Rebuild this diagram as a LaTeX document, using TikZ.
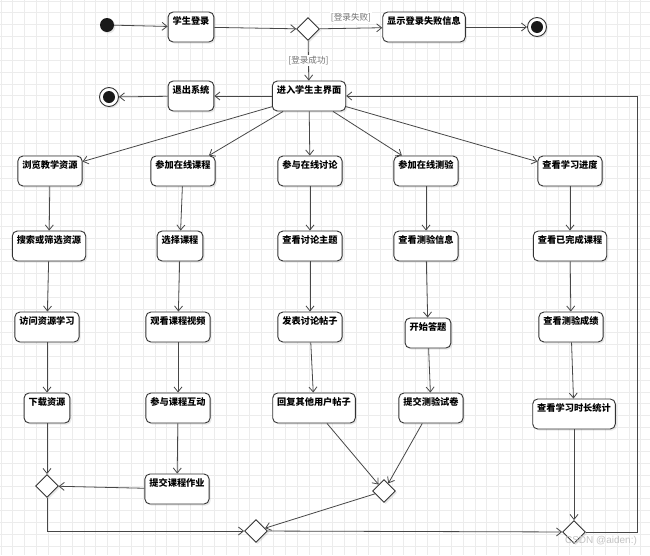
\documentclass[tikz,border=0pt]{standalone}
\usepackage{fontspec}
\newfontfamily\cjk{Noto Sans CJK SC}
\newfontfamily\wmfont{Liberation Sans}
\usetikzlibrary{arrows.meta,shapes.geometric,shadows}
\definecolor{bg}{HTML}{FFFFFF}
\definecolor{gridc}{HTML}{ECECEC}
\definecolor{edge}{HTML}{474747}
\definecolor{boxline}{HTML}{333333}
\definecolor{guard}{HTML}{707070}
\definecolor{wmark}{HTML}{C4C4C4}
\tikzset{
  gridln/.style={draw=gridc, line width=0.5pt},
  act/.style={draw=boxline, line width=0.9pt, rounded corners=5pt, fill=bg,
    font=\cjk\bfseries\fontsize{9.2pt}{11pt}\selectfont, inner xsep=4.5pt, inner ysep=3pt,
    text height=9.5pt, text depth=14.5pt,
    drop shadow={shadow xshift=1.6pt, shadow yshift=-1.6pt, opacity=0.18}},
  choice/.style={diamond, draw=boxline, line width=0.9pt, fill=bg, inner sep=0pt,
    minimum width=23pt, minimum height=23pt,
    drop shadow={shadow xshift=1.6pt, shadow yshift=-1.6pt, opacity=0.18}},
  initdot/.style={circle, fill=black!90, inner sep=0pt, minimum size=14pt,
    drop shadow={shadow xshift=1.4pt, shadow yshift=-1.4pt, opacity=0.18}},
  finring/.style={circle, draw=boxline, line width=0.9pt, fill=bg, inner sep=0pt, minimum size=19pt,
    drop shadow={shadow xshift=1.4pt, shadow yshift=-1.4pt, opacity=0.18}},
  finpt/.style={circle, fill=black!90, inner sep=0pt, minimum size=12pt},
  flow/.style={draw=edge, line width=0.8pt, -{Straight Barb[length=5pt,width=8pt]}},
  guardlab/.style={text=guard, font=\cjk\fontsize{8.6pt}{10pt}\selectfont, fill=bg, inner sep=1pt},
  wmk/.style={text=wmark, font=\wmfont\fontsize{10pt}{12pt}\selectfont},
}
\begin{document}
\begin{tikzpicture}[x=1pt,y=-1pt]
  \useasboundingbox (0,0) rectangle (650,555);
  \fill[bg] (0,0) rectangle (650,555);
  \foreach \g in {0,...,54} {
    \draw[gridln] ({0.8+11.85*\g},0) -- ({0.8+11.85*\g},555);
  }
  \foreach \g in {0,...,46} {
    \draw[gridln] (0,{0.8+11.85*\g}) -- (650,{0.8+11.85*\g});
  }

  \node[initdot] (start) at (107,25) {};
  \node[act] (login) at (191,27) {学生登录};
  \node[choice] (dec1) at (308,29) {};
  \node[act] (fail) at (424,27) {显示登录失败信息};
  \node[finring] (end1) at (537,27) {};
  \node[finpt] (end1pt) at (end1) {};
  \node[act] (main) at (309,96) {进入学生主界面};
  \node[act] (quit) at (191,96) {退出系统};
  \node[finring] (end2) at (109,97) {};
  \node[finpt] (end2pt) at (end2) {};

  \node[act] (browse) at (50,171) {浏览教学资源};
  \node[act] (search) at (49,246) {搜索或筛选资源};
  \node[act] (visit) at (47,327) {访问资源学习};
  \node[act] (download) at (47,408) {下载资源};

  \node[act] (course) at (183,171) {参加在线课程};
  \node[act] (choose) at (180,246) {选择课程};
  \node[act] (video) at (178,327) {观看课程视频};
  \node[act] (interact) at (178,408) {参与课程互动};
  \node[act] (homework) at (177,489) {提交课程作业};

  \node[act] (discuss) at (310,171) {参与在线讨论};
  \node[act] (topic) at (310,246) {查看讨论主题};
  \node[act] (post) at (310,327) {发表讨论帖子};
  \node[act] (reply) at (314,408) {回复其他用户帖子};

  \node[act] (quiz) at (426,171) {参加在线测验};
  \node[act] (quizinfo) at (426,246) {查看测验信息};
  \node[act] (answer) at (428,333) {开始答题};
  \node[act] (submitq) at (431,408) {提交测验试卷};

  \node[act] (progress) at (570,171) {查看学习进度};
  \node[act] (done) at (570,246) {查看已完成课程};
  \node[act] (score) at (571,327) {查看测验成绩};
  \node[act] (stat) at (574,414) {查看学习时长统计};

  \node[choice] (mergeA) at (47,486) {};
  \node[choice] (mergeB) at (384,491) {};
  \node[choice] (mergeC) at (256,531) {};
  \node[choice] (mergeD) at (574,532) {};
  \coordinate (loopc) at (637,532);

  \draw[flow] (start) -- (login);
  \draw[flow] (login) -- (dec1);
  \draw[flow] (dec1) -- node[guardlab, above=5pt] {[登录失败]} (fail);
  \draw[flow] (fail) -- (end1);
  \draw[flow] (dec1) -- node[guardlab] {[登录成功]} (main);
  \draw[flow] (main) -- (quit);
  \draw[flow] (quit) -- (end2);

  \foreach \dst in {browse,course,discuss,quiz,progress}
    \draw[flow] (main) -- (\dst);

  \draw[flow] (browse) -- (search);
  \draw[flow] (search) -- (visit);
  \draw[flow] (visit) -- (download);
  \draw[flow] (download) -- (mergeA);

  \draw[flow] (course) -- (choose);
  \draw[flow] (choose) -- (video);
  \draw[flow] (video) -- (interact);
  \draw[flow] (interact) -- (homework);
  \draw[flow] (homework) -- (mergeA);

  \draw[flow] (discuss) -- (topic);
  \draw[flow] (topic) -- (post);
  \draw[flow] (post) -- (reply);
  \draw[flow] (reply) -- (mergeB);

  \draw[flow] (quiz) -- (quizinfo);
  \draw[flow] (quizinfo) -- (answer);
  \draw[flow] (answer) -- (submitq);
  \draw[flow] (submitq) -- (mergeB);

  \draw[flow] (progress) -- (done);
  \draw[flow] (done) -- (score);
  \draw[flow] (score) -- (stat);
  \draw[flow] (stat) -- (mergeD);

  \draw[flow] (mergeA) |- (mergeC);
  \draw[flow] (mergeB) -- (mergeC);
  \draw[flow] (mergeC) -- (mergeD);
  \draw[flow] (mergeD) -- (loopc) |- (main);

  \node[wmk] (csdn) at (601,541) {CSDN @aiden:)};
\end{tikzpicture}
\end{document}
